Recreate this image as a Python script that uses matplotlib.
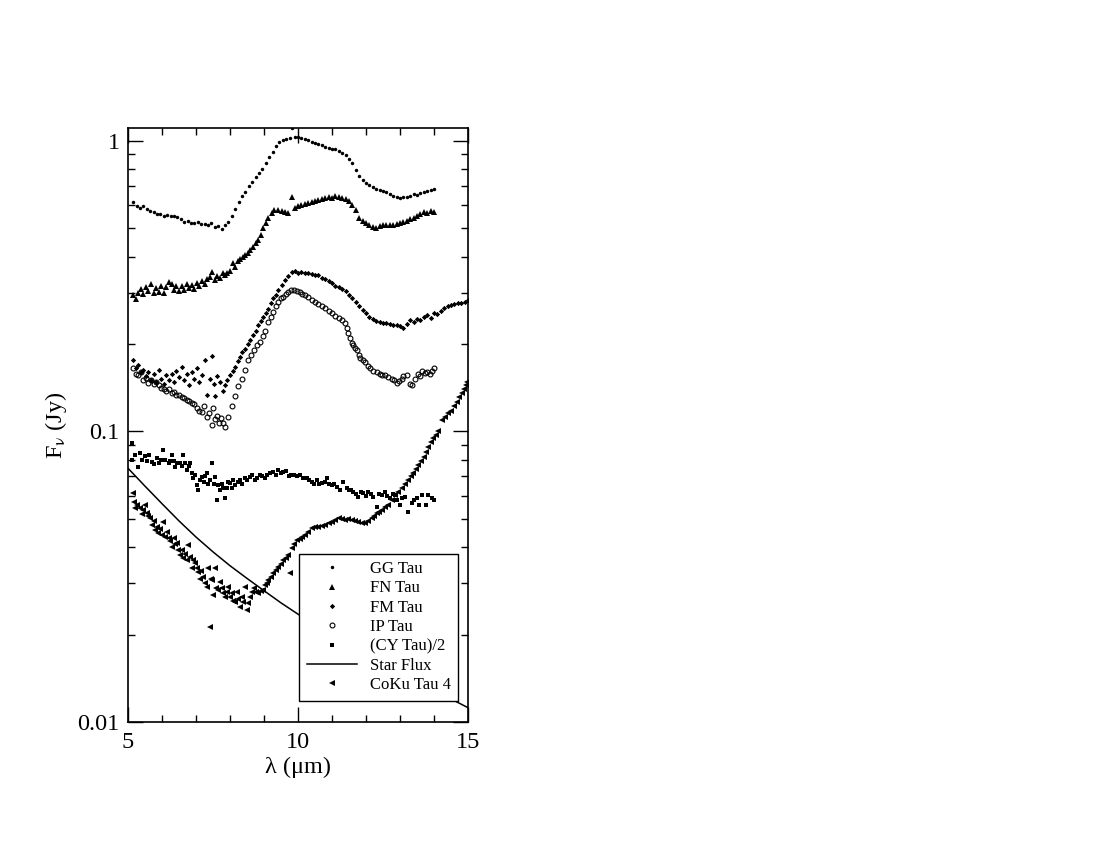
import numpy as np
import matplotlib
matplotlib.use("Agg")
import matplotlib.pyplot as plt
from matplotlib.ticker import FixedLocator, NullFormatter, FixedFormatter

plt.rcParams["font.family"] = ["Liberation Serif", "DejaVu Serif"]
plt.rcParams["mathtext.fontset"] = "stix"

# GG Tau
gg_x = [5.16, 5.25, 5.35, 5.45, 5.55, 5.65, 5.75, 5.85, 5.95, 6.05, 6.15, 6.25, 6.35, 6.45, 6.55,
        6.65, 6.75, 6.85, 6.95, 7.05, 7.15, 7.25, 7.35, 7.45, 7.55, 7.65, 7.75, 7.85, 7.95, 8.05,
        8.15, 8.25, 8.35, 8.45, 8.55, 8.65, 8.75, 8.85, 8.95, 9.05, 9.15, 9.25, 9.35, 9.45, 9.55,
        9.65, 9.75, 9.81, 9.90, 10.0, 10.1, 10.2, 10.3, 10.4, 10.5, 10.6, 10.7, 10.8, 10.9, 11.0,
        11.1, 11.2, 11.3, 11.4, 11.5, 11.6, 11.7, 11.8, 11.9, 12.0, 12.1, 12.2, 12.3, 12.4, 12.5,
        12.6, 12.7, 12.8, 12.9, 13.0, 13.1, 13.2, 13.3, 13.4, 13.5, 13.6, 13.7, 13.8, 13.9, 14.0]
gg_y = [0.615, 0.598, 0.590, 0.597, 0.582, 0.575, 0.570, 0.562, 0.560, 0.550, 0.556, 0.552, 0.553, 0.548, 0.540,
        0.528, 0.530, 0.522, 0.520, 0.525, 0.516, 0.519, 0.512, 0.520, 0.505, 0.510, 0.498, 0.515, 0.525, 0.550,
        0.585, 0.615, 0.645, 0.668, 0.700, 0.720, 0.752, 0.775, 0.800, 0.840, 0.880, 0.915, 0.960, 0.995, 1.005,
        1.015, 1.020, 1.105, 1.035, 1.035, 1.025, 1.015, 1.008, 0.995, 0.985, 0.975, 0.968, 0.955, 0.948, 0.940,
        0.935, 0.925, 0.912, 0.895, 0.865, 0.840, 0.795, 0.760, 0.735, 0.715, 0.705, 0.695, 0.685, 0.680, 0.670,
        0.665, 0.658, 0.648, 0.640, 0.638, 0.642, 0.640, 0.645, 0.655, 0.650, 0.662, 0.668, 0.672, 0.678, 0.685]

# FN Tau
fn_x = [5.16, 5.22, 5.30, 5.38, 5.45, 5.52, 5.60, 5.68, 5.75, 5.82, 5.90, 5.97, 6.05, 6.12, 6.20,
        6.28, 6.35, 6.42, 6.50, 6.58, 6.65, 6.72, 6.80, 6.88, 6.95, 7.02, 7.10, 7.18, 7.25, 7.32,
        7.40, 7.48, 7.55, 7.62, 7.70, 7.78, 7.85, 7.92, 8.00, 8.08, 8.15, 8.22, 8.30, 8.38, 8.45,
        8.52, 8.60, 8.68, 8.75, 8.83, 8.90, 8.98, 9.05, 9.13, 9.22, 9.30, 9.42, 9.52, 9.62, 9.71,
        9.81, 9.90, 10.0, 10.1, 10.2, 10.3, 10.4, 10.5, 10.6, 10.7, 10.8, 10.9, 11.0, 11.1, 11.2,
        11.3, 11.4, 11.5, 11.6, 11.7, 11.8, 11.9, 12.0, 12.1, 12.2, 12.3, 12.4, 12.5, 12.6, 12.7,
        12.8, 12.9, 13.0, 13.1, 13.2, 13.3, 13.4, 13.5, 13.6, 13.7, 13.8, 13.9, 14.0]
fn_y = [0.295, 0.285, 0.300, 0.310, 0.298, 0.315, 0.305, 0.322, 0.300, 0.312, 0.303, 0.318, 0.300, 0.315, 0.326,
        0.322, 0.308, 0.318, 0.305, 0.316, 0.308, 0.322, 0.312, 0.320, 0.310, 0.325, 0.316, 0.330, 0.322, 0.336,
        0.340, 0.355, 0.332, 0.342, 0.338, 0.350, 0.345, 0.352, 0.358, 0.380, 0.368, 0.385, 0.392, 0.398, 0.405,
        0.412, 0.420, 0.430, 0.445, 0.456, 0.475, 0.500, 0.520, 0.545, 0.565, 0.578, 0.580, 0.575, 0.570, 0.566,
        0.643, 0.588, 0.596, 0.600, 0.605, 0.610, 0.615, 0.620, 0.626, 0.631, 0.638, 0.643, 0.636, 0.645, 0.642,
        0.637, 0.630, 0.620, 0.600, 0.580, 0.545, 0.530, 0.522, 0.512, 0.505, 0.500, 0.508, 0.512, 0.514, 0.515,
        0.513, 0.518, 0.520, 0.526, 0.530, 0.538, 0.545, 0.552, 0.560, 0.570, 0.565, 0.575, 0.568]

# FM Tau
fm_x = [5.16, 5.22, 5.30, 5.38, 5.45, 5.52, 5.60, 5.68, 5.75, 5.82, 5.90, 5.97, 6.05, 6.12, 6.20,
        6.28, 6.35, 6.42, 6.50, 6.58, 6.65, 6.72, 6.80, 6.88, 6.95, 7.02, 7.10, 7.18, 7.26, 7.31,
        7.40, 7.48, 7.52, 7.56, 7.62, 7.70, 7.78, 7.85, 7.92, 8.00, 8.08, 8.15, 8.22, 8.29, 8.36,
        8.44, 8.52, 8.59, 8.67, 8.75, 8.83, 8.90, 8.98, 9.05, 9.13, 9.20, 9.27, 9.35, 9.42, 9.52,
        9.62, 9.71, 9.81, 9.90, 10.0, 10.1, 10.2, 10.3, 10.4, 10.5, 10.6, 10.7, 10.8, 10.9, 11.0,
        11.1, 11.2, 11.3, 11.4, 11.5, 11.6, 11.7, 11.8, 11.9, 12.0, 12.1, 12.2, 12.3, 12.4, 12.5,
        12.6, 12.7, 12.8, 12.9, 13.0, 13.1, 13.2, 13.3, 13.4, 13.5, 13.6, 13.7, 13.8, 13.9, 14.0,
        14.1, 14.2, 14.3, 14.4, 14.5, 14.6, 14.7, 14.8, 14.9, 15.0]
fm_y = [0.176, 0.165, 0.170, 0.160, 0.163, 0.155, 0.160, 0.150, 0.158, 0.148, 0.163, 0.152, 0.146, 0.156, 0.150,
        0.158, 0.148, 0.162, 0.154, 0.167, 0.150, 0.158, 0.145, 0.160, 0.152, 0.165, 0.148, 0.157, 0.176, 0.134,
        0.152, 0.182, 0.146, 0.132, 0.155, 0.148, 0.138, 0.145, 0.150, 0.156, 0.162, 0.167, 0.175, 0.181, 0.188,
        0.193, 0.200, 0.206, 0.214, 0.222, 0.233, 0.240, 0.248, 0.255, 0.265, 0.276, 0.287, 0.296, 0.307, 0.320,
        0.332, 0.344, 0.355, 0.356, 0.352, 0.354, 0.350, 0.350, 0.348, 0.346, 0.345, 0.338, 0.334, 0.330, 0.325,
        0.318, 0.315, 0.310, 0.305, 0.295, 0.288, 0.278, 0.270, 0.262, 0.256, 0.248, 0.244, 0.240, 0.239, 0.237,
        0.236, 0.234, 0.232, 0.233, 0.230, 0.227, 0.235, 0.242, 0.238, 0.244, 0.241, 0.248, 0.252, 0.246, 0.255,
        0.253, 0.260, 0.266, 0.270, 0.272, 0.274, 0.276, 0.277, 0.280, 0.284]

# IP Tau
ip_x = [5.16, 5.22, 5.30, 5.38, 5.45, 5.52, 5.60, 5.68, 5.75, 5.82, 5.90, 5.97, 6.05, 6.12, 6.20,
        6.28, 6.35, 6.42, 6.50, 6.58, 6.65, 6.72, 6.80, 6.88, 6.95, 7.02, 7.10, 7.17, 7.24, 7.31,
        7.38, 7.46, 7.51, 7.56, 7.62, 7.68, 7.74, 7.80, 7.86, 7.95, 8.05, 8.15, 8.24, 8.34, 8.44,
        8.52, 8.62, 8.70, 8.78, 8.88, 8.96, 9.03, 9.13, 9.20, 9.27, 9.35, 9.42, 9.50, 9.57, 9.64,
        9.71, 9.80, 9.88, 9.96, 10.05, 10.13, 10.21, 10.30, 10.40, 10.50, 10.60, 10.70, 10.79, 10.90, 11.00,
        11.10, 11.20, 11.28, 11.38, 11.43, 11.48, 11.53, 11.58, 11.63, 11.68, 11.73, 11.78, 11.82, 11.90, 11.97,
        12.05, 12.12, 12.20, 12.31, 12.40, 12.48, 12.56, 12.65, 12.75, 12.82, 12.90, 12.98, 13.05, 13.10, 13.20,
        13.30, 13.36, 13.45, 13.52, 13.58, 13.64, 13.72, 13.80, 13.88, 13.95, 14.01]
ip_y = [0.165, 0.158, 0.156, 0.160, 0.150, 0.153, 0.147, 0.150, 0.146, 0.148, 0.144, 0.141, 0.140, 0.138, 0.140,
        0.136, 0.137, 0.134, 0.133, 0.131, 0.130, 0.128, 0.127, 0.125, 0.124, 0.120, 0.118, 0.117, 0.122, 0.112,
        0.116, 0.105, 0.120, 0.110, 0.113, 0.107, 0.111, 0.107, 0.104, 0.112, 0.122, 0.132, 0.143, 0.152, 0.163,
        0.176, 0.183, 0.190, 0.198, 0.204, 0.213, 0.221, 0.239, 0.248, 0.258, 0.270, 0.280, 0.288, 0.291, 0.298,
        0.303, 0.306, 0.307, 0.305, 0.302, 0.298, 0.295, 0.290, 0.284, 0.280, 0.275, 0.270, 0.266, 0.260, 0.256,
        0.250, 0.245, 0.242, 0.236, 0.227, 0.218, 0.209, 0.202, 0.198, 0.194, 0.191, 0.183, 0.179, 0.176, 0.174,
        0.168, 0.165, 0.162, 0.160, 0.158, 0.156, 0.156, 0.154, 0.152, 0.150, 0.147, 0.149, 0.152, 0.155, 0.157,
        0.146, 0.144, 0.152, 0.158, 0.155, 0.161, 0.159, 0.160, 0.158, 0.161, 0.165]

# (CY Tau)/2
cy_x = [5.11, 5.13, 5.21, 5.30, 5.35, 5.42, 5.50, 5.57, 5.63, 5.70, 5.77, 5.84, 5.92, 5.97, 6.04,
        6.09, 6.19, 6.24, 6.29, 6.34, 6.38, 6.45, 6.53, 6.58, 6.63, 6.68, 6.73, 6.78, 6.82, 6.87,
        6.92, 6.97, 7.02, 7.06, 7.12, 7.17, 7.22, 7.27, 7.31, 7.36, 7.41, 7.48, 7.52, 7.56, 7.61,
        7.66, 7.71, 7.76, 7.80, 7.85, 7.90, 7.95, 8.00, 8.05, 8.10, 8.15, 8.22, 8.29, 8.36, 8.44,
        8.51, 8.59, 8.66, 8.74, 8.80, 8.88, 8.95, 9.03, 9.10, 9.18, 9.26, 9.34, 9.42, 9.50, 9.57,
        9.65, 9.72, 9.80, 9.88, 9.96, 10.05, 10.15, 10.25, 10.33, 10.40, 10.48, 10.55, 10.63, 10.70, 10.78,
        10.84, 10.92, 10.99, 11.07, 11.14, 11.22, 11.33, 11.43, 11.50, 11.57, 11.63, 11.70, 11.77, 11.85, 11.92,
        12.00, 12.07, 12.14, 12.21, 12.31, 12.38, 12.46, 12.56, 12.63, 12.71, 12.78, 12.85, 12.92, 13.00, 13.07,
        13.15, 13.24, 13.34, 13.42, 13.49, 13.56, 13.66, 13.76, 13.83, 13.93, 14.01]
cy_y = [0.0798, 0.0915, 0.083, 0.0756, 0.084, 0.080, 0.0823, 0.079, 0.083, 0.0787, 0.077, 0.081, 0.078, 0.080, 0.0863,
        0.0798, 0.0777, 0.079, 0.083, 0.079, 0.0756, 0.078, 0.0777, 0.076, 0.083, 0.078, 0.0737, 0.076, 0.0777, 0.072,
        0.069, 0.071, 0.0655, 0.0629, 0.068, 0.0699, 0.067, 0.070, 0.0718, 0.066, 0.068, 0.0777, 0.066, 0.0699, 0.058,
        0.0655, 0.0629, 0.066, 0.064, 0.0589, 0.064, 0.067, 0.0664, 0.064, 0.068, 0.0655, 0.067, 0.068, 0.066, 0.069,
        0.068, 0.0699, 0.071, 0.068, 0.069, 0.0708, 0.070, 0.069, 0.071, 0.072, 0.0727, 0.071, 0.0737, 0.072, 0.0727,
        0.073, 0.070, 0.071, 0.0708, 0.070, 0.0708, 0.069, 0.069, 0.068, 0.0672, 0.066, 0.068, 0.066, 0.0664, 0.067,
        0.069, 0.066, 0.0655, 0.066, 0.0646, 0.063, 0.0672, 0.064, 0.063, 0.063, 0.062, 0.061, 0.0597, 0.062, 0.0613,
        0.060, 0.062, 0.061, 0.0597, 0.0551, 0.061, 0.0605, 0.062, 0.060, 0.0589, 0.061, 0.0605, 0.058, 0.0558, 0.059,
        0.0597, 0.053, 0.0566, 0.058, 0.0589, 0.0558, 0.0605, 0.0558, 0.0605, 0.0589, 0.058]

# Star Flux
star_x = [5, 5.5, 6, 6.5, 7, 7.5, 8, 8.5, 9, 9.5, 10, 10.5, 11, 11.5, 12, 12.5, 13, 13.5, 14, 14.5, 15]
star_y = [0.0747, 0.0648, 0.0564, 0.0492, 0.0433, 0.0385, 0.0345, 0.0312, 0.0283, 0.0257, 0.0235,
          0.0216, 0.0198, 0.0183, 0.0169, 0.0157, 0.01466, 0.0137, 0.01282, 0.0120, 0.0112]

# CoKu Tau 4
coku_x = [5.16, 5.18, 5.21, 5.27, 5.35, 5.40, 5.45, 5.50, 5.55, 5.60, 5.65, 5.70, 5.75, 5.79, 5.84,
          5.89, 5.94, 5.99, 6.04, 6.08, 6.14, 6.19, 6.24, 6.29, 6.34, 6.39, 6.43, 6.48, 6.53, 6.58,
          6.63, 6.68, 6.72, 6.77, 6.82, 6.87, 6.92, 6.97, 7.02, 7.07, 7.12, 7.16, 7.21, 7.26, 7.31,
          7.36, 7.41, 7.44, 7.46, 7.51, 7.56, 7.60, 7.66, 7.71, 7.75, 7.80, 7.85, 7.90, 7.95, 8.00,
          8.05, 8.10, 8.15, 8.20, 8.24, 8.29, 8.34, 8.39, 8.44, 8.49, 8.54, 8.60, 8.64, 8.69, 8.75,
          8.83, 8.90, 8.98, 9.03, 9.08, 9.13, 9.20, 9.27, 9.34, 9.42, 9.50, 9.57, 9.64, 9.71, 9.76,
          9.81, 9.88, 9.96, 10.05, 10.13, 10.21, 10.30, 10.40, 10.50, 10.60, 10.70, 10.79, 10.90, 10.99, 11.09,
          11.19, 11.28, 11.38, 11.48, 11.58, 11.68, 11.77, 11.87, 11.97, 12.07, 12.17, 12.24, 12.31, 12.38, 12.46,
          12.56, 12.66, 12.75, 12.85, 12.95, 13.05, 13.15, 13.24, 13.32, 13.39, 13.47, 13.54, 13.62, 13.69, 13.76,
          13.83, 13.91, 13.98, 14.05, 14.13, 14.23, 14.33, 14.42, 14.50, 14.58, 14.67, 14.74, 14.81, 14.88, 14.93,
          14.98]
coku_y = [0.0613, 0.0573, 0.0544, 0.056, 0.0544, 0.052, 0.0538, 0.056, 0.0523, 0.051, 0.0502, 0.0476, 0.049, 0.0458, 0.047,
          0.0446, 0.046, 0.044, 0.0489, 0.0434, 0.045, 0.0429, 0.042, 0.0401, 0.043, 0.041, 0.0412, 0.039, 0.0376, 0.039,
          0.0366, 0.038, 0.036, 0.0407, 0.0371, 0.034, 0.036, 0.0352, 0.034, 0.0329, 0.031, 0.033, 0.0316, 0.030, 0.0292,
          0.0338, 0.0213, 0.031, 0.0308, 0.0274, 0.0338, 0.029, 0.0285, 0.0304, 0.029, 0.0277, 0.0270, 0.028, 0.0292, 0.027,
          0.0277, 0.026, 0.0259, 0.028, 0.0266, 0.0249, 0.027, 0.0259, 0.0292, 0.0243, 0.0256, 0.027, 0.028, 0.0289, 0.028,
          0.0277, 0.0282, 0.0285, 0.0296, 0.030, 0.0308, 0.0316, 0.0325, 0.0334, 0.0342, 0.035, 0.0361, 0.0368, 0.0376, 0.0325,
          0.0396, 0.041, 0.0423, 0.0428, 0.0434, 0.0440, 0.045, 0.0464, 0.0468, 0.0470, 0.0474, 0.0476, 0.0483, 0.0489, 0.0495,
          0.0502, 0.0498, 0.0496, 0.0499, 0.0496, 0.0493, 0.0489, 0.0486, 0.0483, 0.049, 0.0502, 0.051, 0.0523, 0.053, 0.0537,
          0.055, 0.056, 0.058, 0.0605, 0.062, 0.064, 0.066, 0.068, 0.070, 0.0718, 0.074, 0.0767, 0.079, 0.0819, 0.085,
          0.0887, 0.092, 0.0947, 0.097, 0.100, 0.1096, 0.112, 0.1155, 0.118, 0.122, 0.1266, 0.131, 0.1353, 0.140, 0.1445,
          0.148]

fig = plt.figure(figsize=(11, 8.5), dpi=100)
ax = fig.add_axes([0.1164, 0.1506, 0.3091, 0.6988])

ax.plot(gg_x, gg_y, "o", ms=2.5, color="black", mew=0, label="GG Tau")
ax.plot(fn_x, fn_y, "^", ms=3.8, color="black", mew=0, label="FN Tau")
ax.plot(fm_x, fm_y, "D", ms=2.7, color="black", mew=0, label="FM Tau")
ax.plot(ip_x, ip_y, "o", ms=3.5, mfc="none", mec="black", mew=0.8, label="IP Tau")
ax.plot(cy_x, cy_y, "s", ms=2.3, color="black", mew=0, label="(CY Tau)/2")
ax.plot(star_x, star_y, "-", color="black", lw=1.1, label="Star Flux")
ax.plot(coku_x, coku_y, "<", ms=3.8, color="black", mew=0, label="CoKu Tau 4")

ax.set_yscale("log")
ax.set_xlim(5, 15)
ax.set_ylim(0.01, 1.108)

ax.xaxis.set_major_locator(FixedLocator([5, 10, 15]))
ax.xaxis.set_minor_locator(FixedLocator([6, 7, 8, 9, 11, 12, 13, 14]))
ax.yaxis.set_major_locator(FixedLocator([0.01, 0.1, 1]))
ax.yaxis.set_major_formatter(FixedFormatter(["0.01", "0.1", "1"]))
minors = [m * d for d in (0.01, 0.1) for m in range(2, 10)]
ax.yaxis.set_minor_locator(FixedLocator(minors))
ax.yaxis.set_minor_formatter(NullFormatter())

ax.tick_params(which="both", direction="in", top=True, right=True, width=1, labelsize=17.5)
ax.tick_params(axis="x", which="major", pad=7)
ax.tick_params(axis="y", which="major", pad=6)
ax.tick_params(which="major", length=10.5)
ax.tick_params(which="minor", length=5)
for s in ax.spines.values():
    s.set_linewidth(1.2)

ax.set_xlabel("λ (μm)", fontsize=17.5, labelpad=3)
ax.set_ylabel(r"F$_\mathrm{ν}$ (Jy)", fontsize=17.5, labelpad=6)

leg = ax.legend(loc="lower right", bbox_to_anchor=(0.9715, 0.0359), borderaxespad=0,
                fontsize=12, frameon=True, fancybox=False, framealpha=1, edgecolor="black",
                handlelength=3.0, handletextpad=0.8, labelspacing=0.2, borderpad=0.45,
                numpoints=1)
leg.get_frame().set_linewidth(1.0)

fig.savefig("out.png", dpi=100)
